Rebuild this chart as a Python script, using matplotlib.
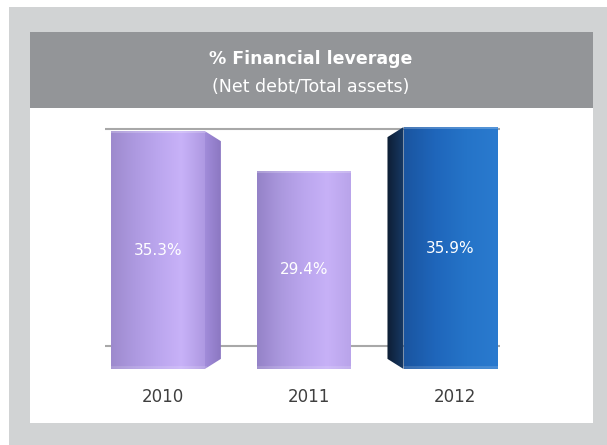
import matplotlib
matplotlib.use("Agg")
import matplotlib.pyplot as plt
from matplotlib.patches import Rectangle, Polygon
from matplotlib.colors import LinearSegmentedColormap
import numpy as np

years = ["2010", "2011", "2012"]
leverage = [35.3, 29.4, 35.9]
labels = ["35.3%", "29.4%", "35.9%"]

title = "% Financial leverage"
subtitle = "(Net debt/Total assets)"

# face colours (left -> right) and side face for each bar
purple = ["#9d8acd", "#ad99e0", "#bba6ee", "#c8b2f8", "#ae99e2"]
blue = ["#1a55a0", "#1f66bb", "#2574c8", "#2a7acf"]
styles = [
    dict(cols=purple, side="right", side_col=["#a18cda", "#8a76c0"]),
    dict(cols=["#9482c7", "#ab98de", "#bba6ee", "#c7b1f7", "#b9a4ea"], side=None, side_col=None),
    dict(cols=blue, side="left", side_col=["#0d1d33", "#173a66"]),
]

fig = plt.figure(figsize=(6.07, 4.45), dpi=100)
W, H = 607, 445


def px_rect(x0, y0, x1, y1, color, z=0):
    fig.patches.append(Rectangle((x0 / W, 1 - y1 / H), (x1 - x0) / W, (y1 - y0) / H,
                                 transform=fig.transFigure, facecolor=color,
                                 edgecolor="none", zorder=z))


# background frame
px_rect(9, 7, W, H, "#d1d3d4")
px_rect(30, 32, 593, 423, "white", 1)
px_rect(30, 32, 593, 108, "#939598", 2)

fig.text(311 / W, 1 - 59 / H, title, color="white", fontsize=12.5, fontweight="bold",
         ha="center", va="center", zorder=5)
fig.text(311 / W, 1 - 87 / H, subtitle, color="white", fontsize=12.5,
         ha="center", va="center", zorder=5)

ax = fig.add_axes([105 / W, 1 - 369 / H, 395 / W, 244 / H])
ax.set_zorder(3)
ax.patch.set_alpha(0)
x = np.arange(len(years))
width = 0.64
ax.set_xlim(-0.363, 2.34)
ax.set_ylim(0, 36.2)

# the two horizontal rails of the 3D frame
for yy in (35.6, 3.4):
    ax.axhline(yy, color="#a8a8a8", lw=1.5, zorder=1)

bars = ax.bar(x, leverage, width, color="none", zorder=2)
side_w = 0.11
chamfer = 1.5
grad = np.linspace(0, 1, 256).reshape(1, -1)
for b, st, lab, v in zip(bars, styles, labels, leverage):
    x0 = b.get_x()
    x1 = x0 + b.get_width()
    top = b.get_height()
    cmap = LinearSegmentedColormap.from_list("f", st["cols"])
    im = ax.imshow(grad, extent=[x0, x1, 0, top], aspect="auto", cmap=cmap,
                   zorder=3, interpolation="bicubic")
    im.set_clip_path(b)
    ax.plot([x0, x1], [top - 0.1, top - 0.1], color="white", alpha=0.25, lw=1.2, zorder=4)
    ax.plot([x0, x1], [0.25, 0.25], color="white", alpha=0.15, lw=2, zorder=4)
    if st["side"] == "right":
        poly = [(x1, top), (x1 + side_w, top - chamfer), (x1 + side_w, chamfer), (x1, 0)]
    elif st["side"] == "left":
        poly = [(x0, top), (x0 - side_w, top - chamfer), (x0 - side_w, chamfer), (x0, 0)]
    else:
        poly = None
    if poly is not None:
        sp = Polygon(poly, closed=True, facecolor="none", edgecolor="none", zorder=3)
        ax.add_patch(sp)
        scmap = LinearSegmentedColormap.from_list("s", st["side_col"])
        xs = [p[0] for p in poly]
        sim = ax.imshow(grad, extent=[min(xs), max(xs), 0, top], aspect="auto",
                        cmap=scmap, zorder=3, interpolation="bicubic")
        sim.set_clip_path(sp)
    ax.text(b.get_x() + b.get_width() / 2, v / 2, lab, color="white",
            fontsize=11, ha="center", va="center", zorder=5)

ax.set_xticks(x + 0.03)
ax.set_xticklabels(years)
ax.tick_params(axis="x", length=0, pad=14, labelsize=12, labelcolor="#3f3f3f")
ax.set_yticks([])
for s in ax.spines.values():
    s.set_visible(False)

fig.savefig("out.png", dpi=100)
